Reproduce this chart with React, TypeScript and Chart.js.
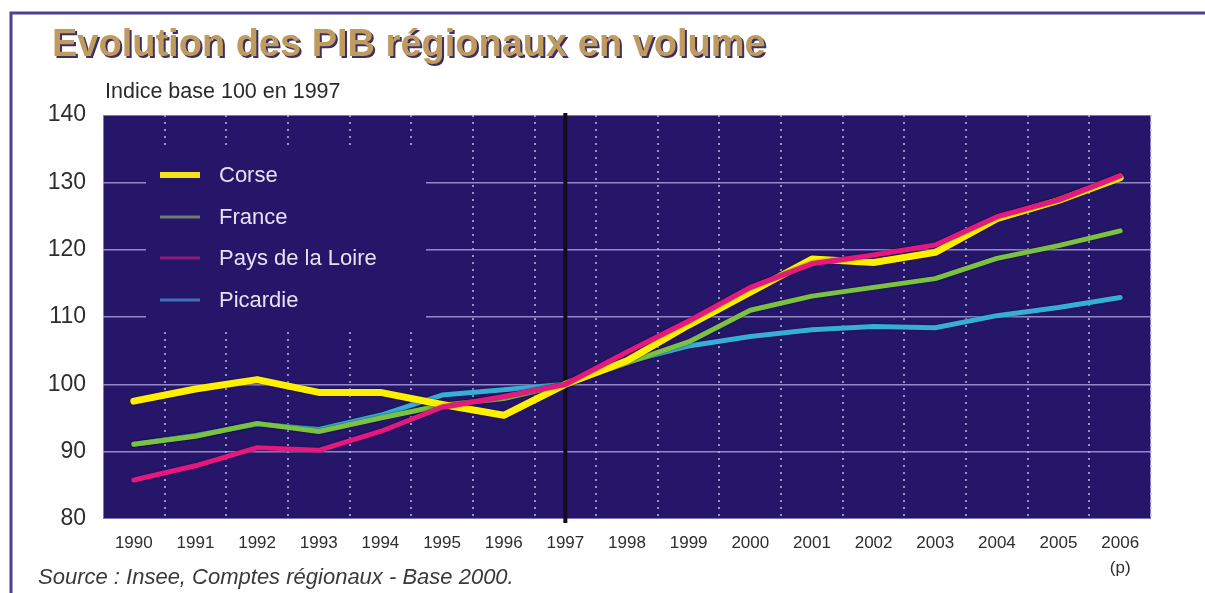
import React, { useEffect, useRef } from "react";
import { Chart, registerables } from "chart.js";

Chart.register(...registerables);

const years: (string | string[])[] = [
  "1990", "1991", "1992", "1993", "1994", "1995", "1996", "1997", "1998",
  "1999", "2000", "2001", "2002", "2003", "2004", "2005", ["2006", "(p)"],
];

const seriesNames = ["Corse", "France", "Pays de la Loire", "Picardie"];

const corse = [97.5, 99.3, 100.7, 98.8, 98.8, 97.0, 95.4, 100, 103.5, 108.8, 113.7, 118.6, 118.1, 119.6, 124.6, 127.3, 130.7];
const france = [91.1, 92.3, 94.2, 93.0, 95.0, 96.9, 97.9, 100, 103.2, 106.3, 111.0, 113.1, 114.4, 115.7, 118.7, 120.6, 122.8];
const paysDeLaLoire = [85.8, 87.9, 90.6, 90.2, 93.0, 96.6, 98.2, 100, 104.8, 109.4, 114.4, 117.9, 119.2, 120.7, 124.9, 127.4, 131.0];
const picardie = [91.1, 92.4, 94.1, 93.3, 95.4, 98.4, 99.2, 100, 103.3, 105.7, 107.1, 108.1, 108.6, 108.4, 110.2, 111.4, 112.9];

const yTicks = [80, 90, 100, 110, 120, 130, 140];
const referenceYear = "1997";

const TITLE = "Evolution des PIB régionaux en volume";
const SUBTITLE = "Indice base 100 en 1997";
const SOURCE = "Source : Insee, Comptes régionaux - Base 2000.";

const PLOT_BG = "#26166a";
const FONT = "'Liberation Sans', Arial, Helvetica, sans-serif";

const lineColors = ["#fff000", "#7cc242", "#e5187f", "#36aed6"];
const legendColors = ["#f4e21a", "#717d6c", "#8e1d78", "#3b70b2"];
const lineWidths = [7, 5, 5, 5];
const drawOrder = [1, 2, 0, 3];

const decorPlugin = {
  id: "decor",
  beforeDraw(chart: any) {
    const { ctx, chartArea: a } = chart;
    ctx.save();
    ctx.strokeStyle = "#4d4193";
    ctx.lineWidth = 3;
    ctx.beginPath();
    ctx.moveTo(11, 593);
    ctx.lineTo(11, 13);
    ctx.lineTo(1205, 13);
    ctx.stroke();
    ctx.fillStyle = PLOT_BG;
    ctx.fillRect(a.left, a.top, a.right - a.left, a.bottom - a.top);
    ctx.strokeStyle = "rgba(190,180,240,0.6)";
    ctx.lineWidth = 1;
    ctx.strokeRect(a.left + 0.5, a.top + 0.5, a.right - a.left - 1, a.bottom - a.top - 1);
    ctx.font = `bold 38px ${FONT}`;
    ctx.textBaseline = "alphabetic";
    ctx.textAlign = "left";
    ctx.fillStyle = "#3b2f63";
    ctx.fillText(TITLE, 54, 58);
    ctx.fillStyle = "#bf9b5f";
    ctx.fillText(TITLE, 52, 56);
    ctx.font = `21.5px ${FONT}`;
    ctx.fillStyle = "#2a2a2a";
    ctx.textBaseline = "middle";
    ctx.fillText(SUBTITLE, 105, 92);
    ctx.font = `italic 22px ${FONT}`;
    ctx.fillStyle = "#3a3a3a";
    ctx.fillText(SOURCE, 38, 578);
    ctx.restore();
  },
  beforeDatasetsDraw(chart: any) {
    const { ctx, chartArea: a, scales } = chart;
    ctx.save();
    const lx = 146, ly = 146, lw = 280, lh = 182;
    ctx.fillStyle = PLOT_BG;
    ctx.fillRect(lx, ly, lw, lh);
    const rowY = [175, 217, 258, 300];
    chart.data.datasets.forEach((ds: any, i: number) => {
      ctx.strokeStyle = legendColors[i];
      ctx.lineWidth = i === 0 ? 6 : 3;
      ctx.lineCap = "butt";
      ctx.beginPath();
      ctx.moveTo(160, rowY[i]);
      ctx.lineTo(200, rowY[i]);
      ctx.stroke();
      ctx.font = `22px ${FONT}`;
      ctx.fillStyle = "#e6e2f4";
      ctx.textAlign = "left";
      ctx.textBaseline = "middle";
      ctx.fillText(ds.label, 219, rowY[i] + 1);
    });
    const idx = years.findIndex((y) => y === referenceYear);
    const x = scales.x.getPixelForValue(idx);
    ctx.strokeStyle = "#140c1e";
    ctx.lineWidth = 4;
    ctx.beginPath();
    ctx.moveTo(x, a.top - 2);
    ctx.lineTo(x, a.bottom + 4);
    ctx.stroke();
    ctx.restore();
  },
  beforeDatasetDraw(chart: any) {
    const ctx = chart.ctx;
    ctx.save();
    ctx.shadowColor = "rgba(10,5,30,0.7)";
    ctx.shadowBlur = 2;
    ctx.shadowOffsetX = 0;
    ctx.shadowOffsetY = 0;
  },
  afterDatasetDraw(chart: any) {
    chart.ctx.restore();
  },
};

export default function App() {
  const ref = useRef<HTMLCanvasElement | null>(null);

  useEffect(() => {
    document.body.style.margin = "0";
    const canvas = ref.current;
    if (!canvas) return;
    const seriesValues = [corse, france, paysDeLaLoire, picardie];
    const chart = new Chart(canvas, {
      type: "line",
      data: {
        labels: years,
        datasets: seriesNames.map((name, i) => ({
          label: name,
          data: seriesValues[i],
          borderColor: lineColors[i],
          backgroundColor: lineColors[i],
          borderWidth: lineWidths[i],
          borderCapStyle: "round",
          borderJoinStyle: "round",
          pointRadius: 0,
          tension: 0,
          order: drawOrder[i],
        })),
      },
      options: {
        animation: false,
        responsive: false,
        maintainAspectRatio: false,
        layout: { padding: { top: 115, right: 54, left: 0, bottom: 0 } },
        plugins: {
          legend: { display: false },
          tooltip: { enabled: false },
        },
        scales: {
          x: {
            type: "category",
            offset: true,
            border: { display: false, dash: [2, 5] },
            grid: {
              offset: true,
              drawTicks: false,
              color: (c: any) =>
                c.index === 0 || c.index === years.length
                  ? "rgba(0,0,0,0)"
                  : "rgba(200,196,232,0.7)",
              lineWidth: 2,
            },
            ticks: {
              color: "#2e2e2e",
              font: { family: FONT, size: 17, lineHeight: 1.45 },
              padding: 12,
              maxRotation: 0,
              autoSkip: false,
            },
            afterFit(scale: any) {
              scale.height = 74;
            },
          },
          y: {
            min: 80,
            max: 140,
            border: { display: false },
            grid: {
              drawTicks: false,
              color: (c: any) =>
                c.tick && (c.tick.value === 80 || c.tick.value === 140)
                  ? "rgba(0,0,0,0)"
                  : "rgba(185,175,235,0.75)",
              lineWidth: 1.5,
            },
            afterBuildTicks(scale: any) {
              scale.ticks = yTicks.map((v) => ({ value: v }));
            },
            ticks: {
              color: "#2e2e2e",
              font: { family: FONT, size: 23 },
              padding: 17,
            },
            afterFit(scale: any) {
              scale.width = 103;
            },
          },
        },
      },
      plugins: [decorPlugin],
    } as any);
    return () => chart.destroy();
  }, []);

  return (
    <div style={{ width: 1205, height: 593, position: "relative" }}>
      <canvas ref={ref} width={1205} height={593} style={{ display: "block", width: 1205, height: 593 }} />
    </div>
  );
}
